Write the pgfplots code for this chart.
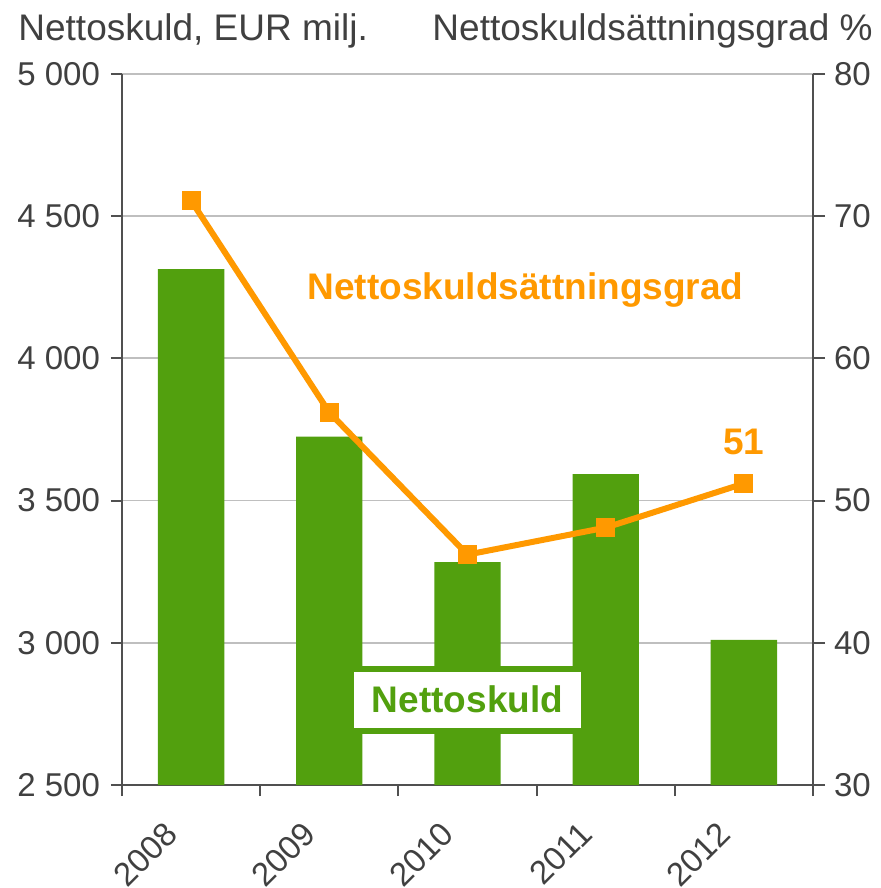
\documentclass[border=0pt]{standalone}
\usepackage{pgfplots}
\pgfplotsset{compat=1.18}
\usepackage{fontspec}
\setmainfont{Liberation Sans}
\definecolor{bargreen}{RGB}{82,160,14}
\definecolor{lineorange}{RGB}{255,153,0}
\definecolor{txtgray}{RGB}{64,64,64}
\definecolor{axgray}{RGB}{80,80,80}
\definecolor{gridgray}{RGB}{191,191,191}
\begin{document}
\begin{tikzpicture}
\path[use as bounding box] (-61pt,-51.5pt) rectangle (379.5pt,392.5pt);
\begin{axis}[
  at={(0,0)}, anchor=south west,
  scale only axis, width=345.5pt, height=355.5pt,
  xmin=-0.5, xmax=4.5, ymin=2500, ymax=5000,
  axis x line*=bottom, axis y line*=left,
  axis line style={axgray, line width=1pt, -},
  xtick={-0.5,0.5,1.5,2.5,3.5,4.5},
  xticklabels={},
  extra x ticks={0,1,2,3,4},
  extra x tick labels={2008,2009,2010,2011,2012},
  extra x tick style={major tick length=0pt,
    xticklabel style={xshift=-14pt, yshift=-12.5pt, rotate=45, anchor=north east}},
  major tick length=5.5pt,
  tick align=outside,
  tick style={axgray, line width=1pt},
  ytick={2500,3000,...,5000},
  ymajorgrids, grid style={gridgray, line width=0.9pt},
  /pgf/number format/assume math mode=true,
  /pgf/number format/1000 sep={\ },
  ticklabel style={font=\fontsize{16.5}{20}\selectfont, text=txtgray},
  yticklabel style={xshift=-2pt},
  clip=false,
]
\addplot[ybar, bar width=0.48, fill=bargreen, draw=none] coordinates {
  (0,4314) (1,3725) (2,3284) (3,3593) (4,3010)
};
\node[fill=white, draw=bargreen, line width=3pt, minimum width=116pt, minimum height=31pt,
      font=\fontsize{18.5}{22}\selectfont\bfseries, text=bargreen, inner sep=0pt]
  at (axis cs:2,2800) {Nettoskuld};
\end{axis}
\begin{axis}[
  at={(0,0)}, anchor=south west,
  scale only axis, width=345.5pt, height=355.5pt,
  xmin=-0.5, xmax=4.5, ymin=30, ymax=80,
  axis x line=none, axis y line*=right,
  axis line style={axgray, line width=1pt, -},
  ytick={30,40,...,80},
  major tick length=6pt,
  tick align=outside,
  tick style={axgray, line width=1pt},
  /pgf/number format/assume math mode=true,
  ticklabel style={font=\fontsize{16.5}{20}\selectfont, text=txtgray},
  yticklabel style={xshift=1pt},
  clip=false,
]
\addplot[lineorange, line width=3pt, mark=square*, mark size=4.5pt,
  mark options={fill=lineorange, draw=lineorange, line width=0pt}] coordinates {
  (0,71.1) (1,56.2) (2,46.2) (3,48.1) (4,51.2)
};
\node[font=\fontsize{18.5}{22}\selectfont\bfseries, text=lineorange]
  at (axis cs:2.42,64.8) {Nettoskuldsättningsgrad};
\node[font=\fontsize{18.5}{22}\selectfont\bfseries, text=lineorange]
  at (axis cs:4,54.1) {51};
\end{axis}
\node[anchor=base west, inner sep=0pt, font=\fontsize{18.5}{22}\selectfont, text=txtgray]
  at (-52pt,372pt) {Nettoskuld, EUR milj.};
\node[anchor=base east, inner sep=0pt, font=\fontsize{18.5}{22}\selectfont, text=txtgray]
  at (375.5pt,372pt) {Nettoskuldsättningsgrad \%};
\end{tikzpicture}
\end{document}
